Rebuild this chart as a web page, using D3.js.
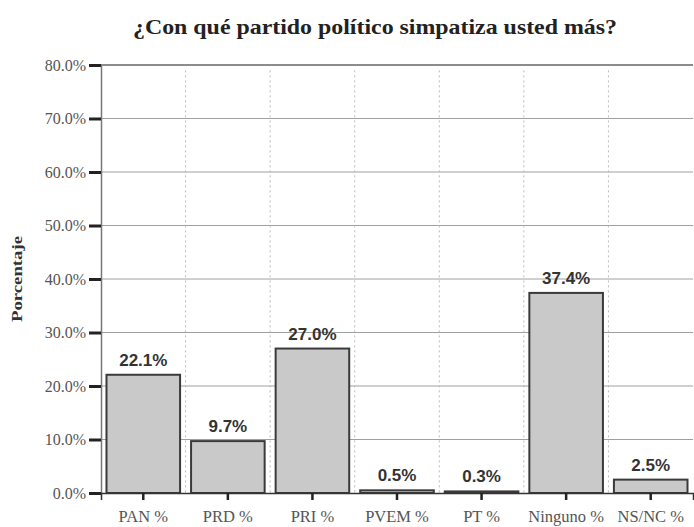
<!DOCTYPE html>
<html lang="es">
<head>
<meta charset="UTF-8">
<title>Simpatía partidista</title>
<script src="https://cdn.jsdelivr.net/npm/d3@7"></script>
<style>
  body { margin: 0; background: #fff; }
</style>
</head>
<body>
<div id="chart"></div>
<script>
  // datos
  const partidos = ["PAN %", "PRD %", "PRI %", "PVEM %", "PT %", "Ninguno %", "NS/NC %"];
  const porcentajes = [22.1, 9.7, 27.0, 0.5, 0.3, 37.4, 2.5];
  const ticksY = [0, 10, 20, 30, 40, 50, 60, 70, 80];

  const SERIF = "'Liberation Serif', 'Times New Roman', Times, serif";
  const SANS = "'Liberation Sans', Arial, Helvetica, sans-serif";

  const W = 694, H = 527;
  const margin = { top: 65, right: 1, bottom: 34, left: 101 };
  const width = W - margin.left - margin.right;
  const height = H - margin.top - margin.bottom;

  const svg = d3.select("#chart").append("svg")
      .attr("width", W).attr("height", H);

  const g = svg.append("g")
      .attr("transform", `translate(${margin.left},${margin.top})`);

  const x = d3.scaleBand()
      .domain(partidos)
      .range([0, width])
      .paddingInner(0.13)
      .paddingOuter(0.065);

  const y = d3.scaleLinear()
      .domain([0, 80])
      .range([height, 0]);

  const paso = width / partidos.length;

  // rejilla horizontal
  g.selectAll(".hgrid")
    .data(ticksY.filter(d => d > 0))
    .enter().append("line")
      .attr("x1", 0).attr("x2", width)
      .attr("y1", d => y(d)).attr("y2", d => y(d))
      .attr("stroke", d => d === 80 ? "#666" : "#a0a0a0")
      .attr("stroke-width", d => d === 80 ? 1.3 : 1);

  // rejilla vertical punteada
  g.selectAll(".vgrid")
    .data(d3.range(1, partidos.length))
    .enter().append("line")
      .attr("x1", d => d * paso).attr("x2", d => d * paso)
      .attr("y1", y(79)).attr("y2", height)
      .attr("stroke", "#bbb")
      .attr("stroke-dasharray", "2,3");

  // barras
  g.selectAll("rect.bar")
    .data(porcentajes)
    .enter().append("rect")
      .attr("class", "bar")
      .attr("x", (d, i) => x(partidos[i]))
      .attr("y", d => y(d))
      .attr("width", x.bandwidth())
      .attr("height", d => height - y(d))
      .attr("fill", "#c9c9c9")
      .attr("stroke", "#3a3a3a")
      .attr("stroke-width", 2);

  // etiquetas de valor
  g.selectAll("text.val")
    .data(porcentajes)
    .enter().append("text")
      .attr("x", (d, i) => x(partidos[i]) + x.bandwidth() / 2)
      .attr("y", d => y(d) - 9)
      .attr("text-anchor", "middle")
      .attr("font-family", SANS)
      .attr("font-weight", "bold")
      .attr("font-size", 17)
      .attr("fill", "#333")
      .text(d => d.toFixed(1) + "%");

  // eje Y
  const yAxis = g.append("g")
      .call(d3.axisLeft(y).tickValues(ticksY).tickFormat(d => d.toFixed(1) + "%").tickSize(12).tickPadding(3));
  yAxis.attr("font-family", SERIF).attr("font-size", 16);
  yAxis.select(".domain").attr("stroke", "#777").attr("stroke-width", 1.5);
  yAxis.selectAll(".tick line").attr("stroke", "#222").attr("stroke-width", 3);
  yAxis.selectAll("text").attr("fill", "#555");

  // eje X
  const xAxis = g.append("g")
      .attr("transform", `translate(0,${height})`)
      .call(d3.axisBottom(x).tickSize(7).tickPadding(10));
  xAxis.attr("font-family", SERIF).attr("font-size", 16.5);
  xAxis.select(".domain").attr("stroke", "#333").attr("stroke-width", 1.5);
  xAxis.selectAll(".tick line").attr("stroke", "#222").attr("stroke-width", 2.5);
  xAxis.selectAll("text").attr("fill", "#555");

  // título
  svg.append("text")
      .attr("x", 375).attr("y", 34)
      .attr("text-anchor", "middle")
      .attr("font-family", SERIF)
      .attr("font-size", 21)
      .attr("font-weight", "bold")
      .attr("fill", "#222")
      .attr("textLength", 484)
      .attr("lengthAdjust", "spacingAndGlyphs")
      .text("¿Con qué partido político simpatiza usted más?");

  // título eje Y
  svg.append("text")
      .attr("transform", "translate(22,279) rotate(-90)")
      .attr("text-anchor", "middle")
      .attr("font-family", SERIF)
      .attr("font-size", 15)
      .attr("font-weight", "bold")
      .attr("fill", "#333")
      .attr("textLength", 86)
      .attr("lengthAdjust", "spacingAndGlyphs")
      .text("Porcentaje");
</script>
</body>
</html>
